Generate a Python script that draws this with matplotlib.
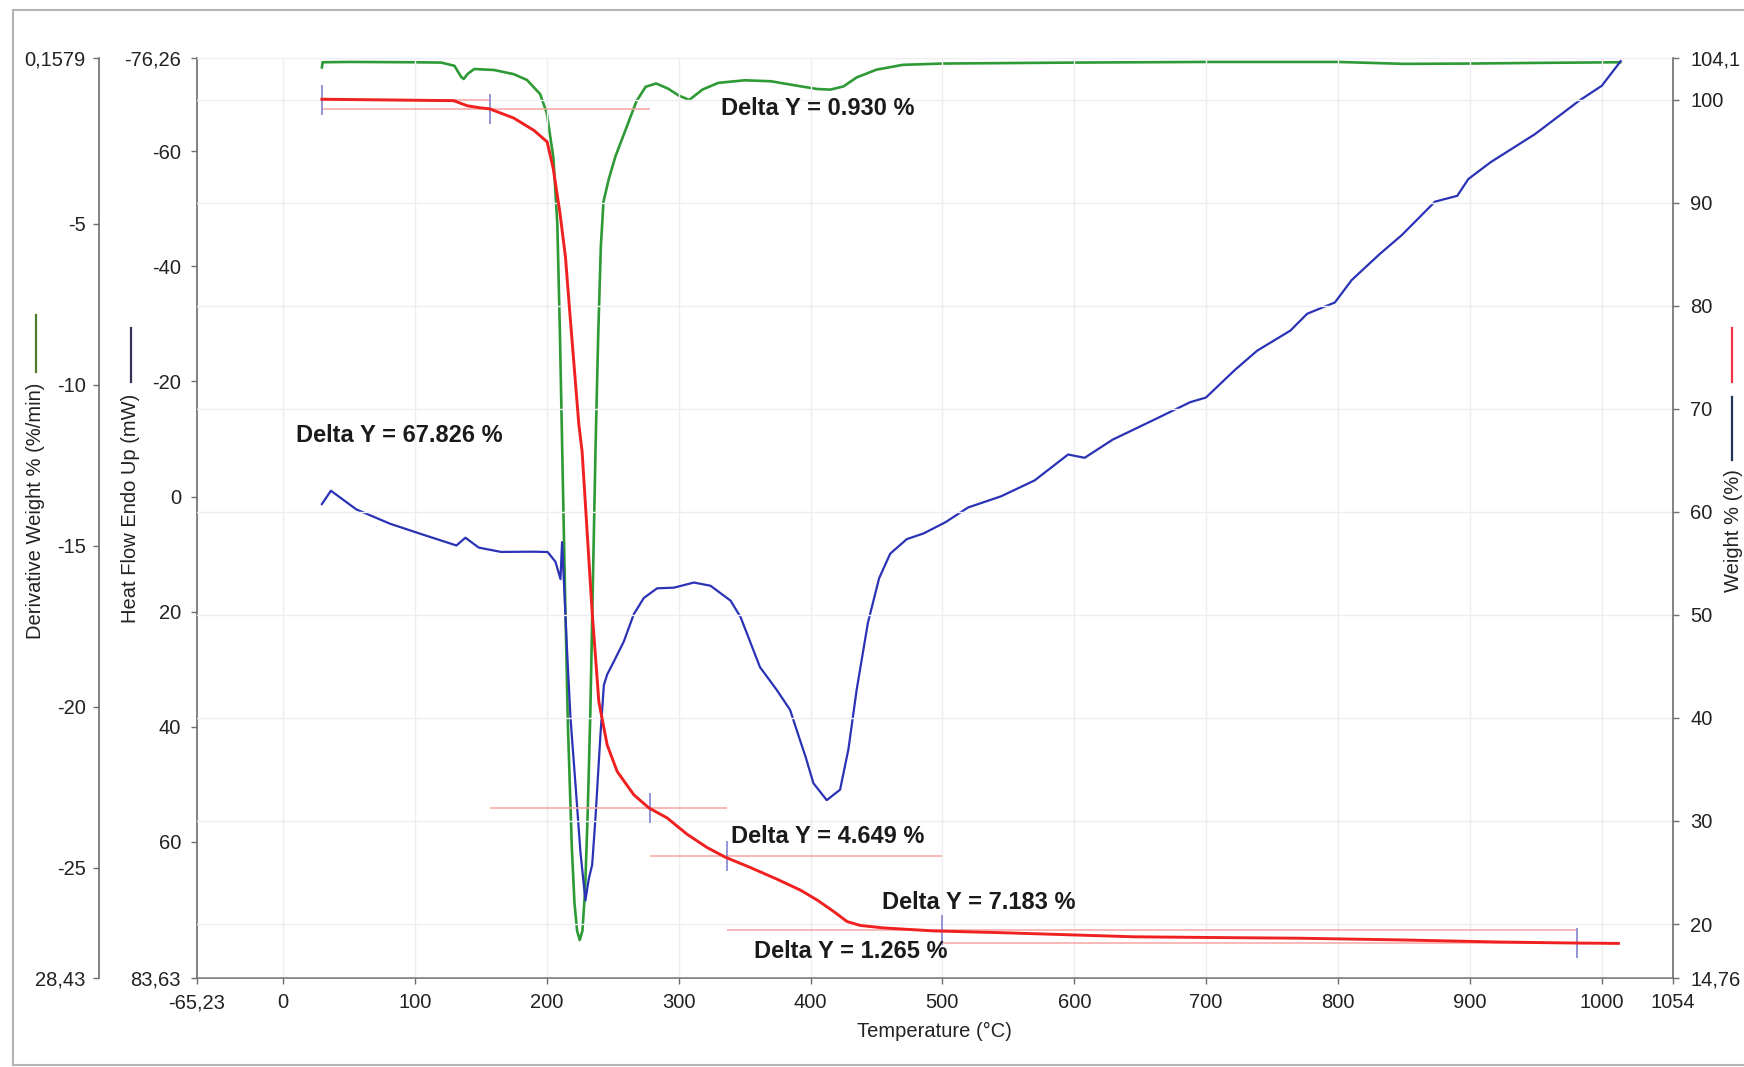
import matplotlib
matplotlib.use('Agg')
import matplotlib.pyplot as plt
from matplotlib.lines import Line2D

plt.rcParams['font.family'] = ['Liberation Sans', 'DejaVu Sans']

# ---------------- data ----------------
x_min, x_max = -65.23, 1054
x_ticks = [-65.23, 0, 100, 200, 300, 400, 500, 600, 700, 800, 900, 1000, 1054]
x_ticklabels = ['-65,23', '0', '100', '200', '300', '400', '500', '600', '700',
                '800', '900', '1000', '1054']

hf_lim = (83.63, -76.26)
hf_ticks = [-76.26, -60, -40, -20, 0, 20, 40, 60, 83.63]
hf_ticklabels = ['-76,26', '-60', '-40', '-20', '0', '20', '40', '60', '83,63']

w_lim = (14.76, 104.1)
w_ticks = [14.76, 20, 30, 40, 50, 60, 70, 80, 90, 100, 104.1]
w_ticklabels = ['14,76', '20', '30', '40', '50', '60', '70', '80', '90', '100', '104,1']

d_lim = (-28.43, 0.1579)
d_ticks = [-28.43, -25, -20, -15, -10, -5, 0.1579]
d_ticklabels = ['28,43', '-25', '-20', '-15', '-10', '-5', '0,1579']

# Weight % (red)
weight_T = [29.5, 129.4, 139.6, 149.7, 156.6, 175.0, 190.2, 200.3, 204.9, 210.0,
            214.2, 217.5, 220.9, 224.3, 226.8, 234.4, 239.5, 245.8, 253.4, 266.0,
            277.4, 291.2, 306.4, 321.6, 335.5, 354.4, 374.6, 392.3, 405.0, 417.6,
            427.7, 437.7, 455.4, 493.4, 544.0, 599.5, 645.0, 695.6, 771.5, 850.0,
            923.1, 981.2, 1012.6]
weight = [100.05, 99.91, 99.42, 99.21, 99.12, 98.22, 97.03, 95.91, 93.32, 89.0,
          84.69, 79.29, 73.88, 68.49, 65.84, 50.29, 41.56, 37.38, 34.8, 32.54,
          31.27, 30.3, 28.71, 27.42, 26.48, 25.48, 24.35, 23.29, 22.33, 21.21,
          20.24, 19.86, 19.62, 19.33, 19.16, 18.94, 18.76, 18.7, 18.62, 18.45,
          18.25, 18.15, 18.12]

# Heat flow (blue)
hf_T = [29.5, 36.3, 55.6, 81.0, 106.0, 131.5, 138.3, 148.4, 165.3, 190.6,
        200.7, 206.6, 210.4, 211.6, 212.9, 215.4, 218.0, 221.8, 225.5, 228.1,
        229.3, 231.9, 234.4, 236.9, 240.7, 243.3, 245.8, 250.8, 258.4, 266.0,
        273.6, 283.7, 296.4, 311.6, 324.2, 339.4, 347.0, 361.7, 374.4, 384.5,
        392.1, 396.3, 402.2, 412.3, 422.4, 428.7, 435.0, 443.5, 452.0, 460.4,
        473.0, 485.7, 502.5, 519.4, 544.7, 570.0, 595.3, 607.9, 629.0, 662.7,
        688.0, 699.8, 721.8, 738.6, 763.9, 776.6, 797.6, 810.3, 831.4, 848.2,
        873.5, 890.4, 898.8, 915.7, 949.4, 983.1, 1000.0, 1014.3]
hf = [1.31, -1.01, 2.24, 4.71, 6.61, 8.5, 7.15, 8.87, 9.62, 9.58,
      9.64, 11.34, 14.34, 7.92, 14.36, 26.91, 38.51, 50.11, 61.69, 67.49,
      70.14, 66.33, 64.01, 55.87, 41.35, 32.74, 30.91, 28.68, 25.18, 20.43,
      17.61, 15.94, 15.83, 14.94, 15.5, 18.09, 20.97, 29.65, 33.6, 37.06,
      42.37, 45.25, 49.8, 52.74, 50.92, 43.94, 33.54, 21.94, 14.2, 9.93,
      7.4, 6.41, 4.44, 1.91, -0.06, -2.81, -7.3, -6.73, -9.87, -13.58,
      -16.4, -17.19, -21.99, -25.32, -28.83, -31.75, -33.71, -37.59, -42.08, -45.38,
      -51.22, -52.23, -55.15, -58.07, -62.96, -68.8, -71.35, -75.62]

# Derivative weight (green)
dw_T = [29.5, 30.0, 50, 100, 120, 130, 135, 137, 140, 145,
        160, 175, 185, 195, 200, 205, 208, 210, 212, 214,
        216, 219, 221, 223, 225, 227, 229, 231, 233, 235,
        237, 239, 241, 243, 247, 252, 260, 268, 275, 283,
        292, 300, 308, 318, 330, 350, 370, 390, 405, 415,
        425, 435, 450, 470, 500, 600, 700, 800, 850, 900,
        950, 1014]
dw = [-0.15, 0.01, 0.02, 0.01, 0.0, -0.1, -0.44, -0.51, -0.35, -0.2,
      -0.23, -0.36, -0.54, -0.98, -1.57, -2.95, -5.02, -8.48, -12.63, -16.77,
      -20.57, -24.38, -26.1, -26.97, -27.25, -26.97, -25.76, -23.34, -20.23, -16.08,
      -11.93, -8.47, -5.71, -4.32, -3.62, -2.92, -2.06, -1.2, -0.75, -0.65,
      -0.81, -1.02, -1.16, -0.84, -0.63, -0.55, -0.58, -0.72, -0.82, -0.84,
      -0.74, -0.46, -0.22, -0.07, -0.03, 0.0, 0.02, 0.02, -0.04, -0.03,
      -0.01, 0.01]

# Delta Y step analysis
step_T = [29.5, 157, 278, 337, 500, 981]
start_level = 100.0
deltas = [0.930, 67.826, 4.649, 7.183, 1.265]
label_T = [332.2, 10.1, 339.8, 454.5, 357.5]
label_W = [99.11, 67.39, 28.46, 22.08, 17.35]

# ---------------- figure ----------------
fig = plt.figure(figsize=(17.44, 10.67), dpi=100)
fig.patch.set_facecolor('white')
ax = fig.add_axes([0.11296, 0.08341, 0.84633, 0.8627])
axw = ax.twinx()
axd = ax.twinx()

spine_col = '#6e6e6e'
tick_col = '#222222'
for a in (ax, axw, axd):
    a.patch.set_visible(False)
    a.spines['top'].set_visible(False)
    for s in a.spines.values():
        s.set_color(spine_col)
        s.set_linewidth(1.2)

axd.set_zorder(1)
ax.set_zorder(2)
axw.set_zorder(3)

ax.set_xlim(x_min, x_max)
ax.set_xticks(x_ticks)
ax.set_xticklabels(x_ticklabels)

ax.set_ylim(*hf_lim)
ax.set_yticks(hf_ticks)
ax.set_yticklabels(hf_ticklabels)
ax.spines['right'].set_visible(False)

axw.set_ylim(*w_lim)
axw.set_yticks(w_ticks)
axw.set_yticklabels(w_ticklabels)
axw.spines['left'].set_visible(False)
axw.spines['bottom'].set_visible(False)

axd.set_ylim(*d_lim)
axd.set_yticks(d_ticks)
axd.set_yticklabels(d_ticklabels)
axd.spines['right'].set_visible(False)
axd.spines['bottom'].set_visible(False)
axd.spines['left'].set_visible(True)
axd.spines['left'].set_position(('axes', -0.0664))
axd.yaxis.set_ticks_position('left')
axd.yaxis.set_label_position('left')

ax.tick_params(axis='x', direction='out', length=4.5, width=1, color=spine_col,
               labelsize=14.5, labelcolor=tick_col, pad=6.5)
ax.tick_params(axis='y', direction='out', length=4.5, width=1, color=spine_col,
               labelsize=14.5, labelcolor=tick_col, pad=7)
axw.tick_params(axis='y', direction='out', length=4.5, width=1, color=spine_col,
                labelsize=14.5, labelcolor=tick_col, pad=8)
axd.tick_params(axis='y', direction='out', length=4.5, width=1, color=spine_col,
                labelsize=14.5, labelcolor=tick_col, pad=5)

# faint grid
grid_col = '#ededf3'
ax.grid(axis='x', color=grid_col, lw=1.0)
axw.grid(axis='y', color=grid_col, lw=1.0)
ax.set_axisbelow(True)
axw.set_axisbelow(True)

# curves
axd.plot(dw_T, dw, color='#2e9a35', lw=1.9, zorder=3)
ax.plot(hf_T, hf, color='#2a32b5', lw=1.6, zorder=3)

# step-analysis lines
levels = [start_level]
for d in deltas:
    levels.append(levels[-1] - d)
end_T = weight_T[-1]
for k, lev in enumerate(levels):
    xa = step_T[max(k - 1, 0)]
    xb = step_T[k + 1] if k + 1 < len(step_T) else end_T
    axw.hlines(lev, xa, xb, color='#f6a4a4', lw=1.1, zorder=2)
for k, t in enumerate(step_T):
    axw.vlines(t, levels[k] - 1.46, levels[k] + 1.46, color='#8c8cd4', lw=1.3, zorder=2)

axw.plot(weight_T, weight, color='#f02020', lw=2.1, zorder=4)

for d, tx, ty in zip(deltas, label_T, label_W):
    axw.text(tx, ty, f'Delta Y = {d:.3f} %', fontsize=17, fontweight='bold',
             color='#1a1a1a', ha='left', va='center', zorder=5)

# axis titles
fig.text(0.5356, 0.0337, 'Temperature (°C)', fontsize=14.5, color=tick_col,
         ha='center', va='center')
fig.text(0.0751, 0.5239, 'Heat Flow Endo Up (mW)', fontsize=14.5, color=tick_col,
         ha='center', va='center', rotation=90)
fig.text(0.0206, 0.5211, 'Derivative Weight % (%/min)', fontsize=14.5, color=tick_col,
         ha='center', va='center', rotation=90)
fig.text(0.9937, 0.5023, 'Weight % (%)', fontsize=14.5, color=tick_col,
         ha='center', va='center', rotation=90)

# legend swatches beside titles
fig.add_artist(Line2D([0.0206, 0.0206], [0.7048, 0.6514], color='#4f7a2a', lw=1.6))
fig.add_artist(Line2D([0.0754, 0.0754], [0.6926, 0.6420], color='#333355', lw=1.6))
fig.add_artist(Line2D([0.9931, 0.9931], [0.6926, 0.6420], color='#ee3344', lw=1.6))
fig.add_artist(Line2D([0.9931, 0.9931], [0.6279, 0.5689], color='#223355', lw=1.6))

# scanned page border
border_col = '#b4b4b4'
fig.add_artist(Line2D([0.00745, 0.00745], [0.9906, 0.0019], color=border_col, lw=1.5))
fig.add_artist(Line2D([0.00745, 1.0], [0.9906, 0.9906], color=border_col, lw=1.5))
fig.add_artist(Line2D([0.00745, 1.0], [0.0019, 0.0019], color=border_col, lw=1.5))

fig.savefig('out.png', dpi=100, facecolor='white')
